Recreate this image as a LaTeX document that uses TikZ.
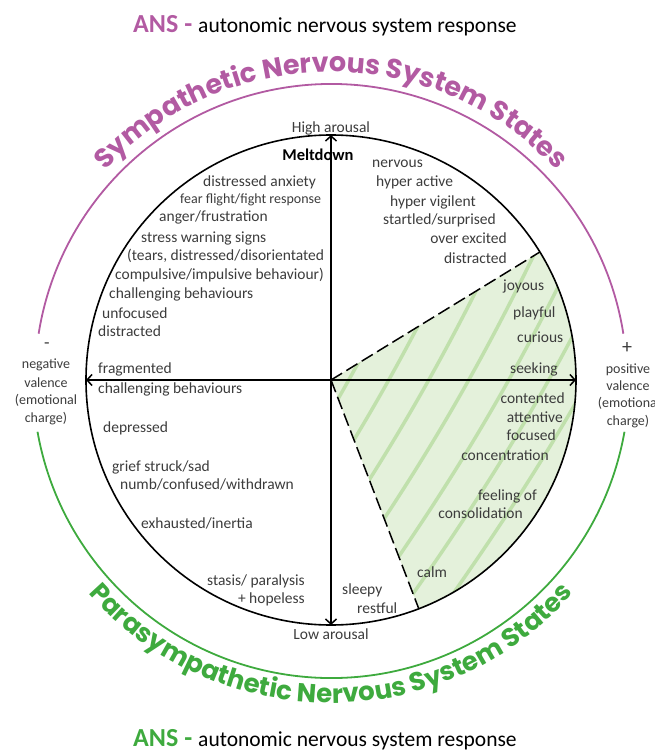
\documentclass[tikz,border=0pt]{standalone}
\usepackage{fontspec}
\setmainfont{Carlito}
\newfontfamily\statefont{Poppins}
\usetikzlibrary{decorations.text}
\usetikzlibrary{arrows.meta}

\definecolor{sympurple}{RGB}{178,90,162}
\definecolor{paragreen}{RGB}{62,170,62}
\definecolor{calmfill}{RGB}{228,241,219}
\definecolor{calmstripe}{RGB}{192,224,172}
\definecolor{txtgrey}{RGB}{60,60,60}

\begin{document}
\begin{tikzpicture}[x=1pt, y=1pt,
    lbl/.style={font=\fontsize{15.5}{18}\selectfont, text=txtgrey, inner sep=0pt},
    lw/.style={lbl, anchor=base west},
    le/.style={lbl, anchor=base east},
    side/.style={font=\fontsize{14}{16}\selectfont, text=txtgrey, inner sep=0pt, anchor=base},
    stripe/.style={calmstripe, line width=3.5pt},
    calmedge/.style={dash pattern=on 13pt off 5pt, line width=1.5pt},
    axis/.style={<->, >={Straight Barb[length=5pt,width=11pt]}, line width=1.5pt}]

\useasboundingbox (-331, -373) rectangle (324, 380);

% calm sector
\coordinate (origin) at (0, 0);
\coordinate (calmTop) at (31.5:245);
\coordinate (calmBot) at (-69:245);
\fill[calmfill] (origin) -- (calmBot) arc[start angle=-69, end angle=31.5, radius=245] -- cycle;
\begin{scope}
  \clip (origin) -- (calmBot) arc[start angle=-69, end angle=31.5, radius=245] -- cycle;
  \foreach \a in {-4, 36, 76, 116, 156, 196, 236, 276}
    \draw[stripe] (\a-165, -285) to[bend right=6] (\a+145, 250);
\end{scope}
\draw[calmedge] (origin) -- (calmTop);
\draw[calmedge] (origin) -- (calmBot);

% wheel and axes
\node[circle, draw, line width=1.6pt, minimum size=490pt, inner sep=0pt, outer sep=0pt] (wheel) at (origin) {};
\draw[axis] (wheel.south) -- (wheel.north);
\draw[axis] (wheel.west) -- (wheel.east);

% outer arcs
\draw[sympurple, line width=1.8pt] (9:296) arc[start angle=9, end angle=171, radius=296];
\draw[paragreen, line width=1.8pt] (-10:298) arc[start angle=-10, end angle=-170, radius=298];

\path[decorate, decoration={text along path, text align=center,
    text={|\statefont\bfseries\fontsize{27}{27}\selectfont\color{sympurple}|Sympathetic Nervous System States}}]
  (150:308) arc[start angle=150, end angle=30, radius=308];
\path[decorate, decoration={text along path, text align=center,
    text={|\statefont\bfseries\fontsize{26}{26}\selectfont\color{paragreen}|Parasympathetic Nervous System States}}]
  (210:323) arc[start angle=210, end angle=330, radius=323];

% titles
\node[anchor=base west, inner sep=0pt] (ansTop) at (-198, 347)
  {\textcolor{sympurple}{\fontsize{26}{26}\selectfont\bfseries ANS -}\hspace{6pt}\fontsize{21.5}{24}\selectfont autonomic nervous system response};
\node[anchor=base west, inner sep=0pt] (ansBot) at (-198, -366)
  {\textcolor{paragreen}{\fontsize{26}{26}\selectfont\bfseries ANS -}\hspace{6pt}\fontsize{21.5}{24}\selectfont autonomic nervous system response};

% axis labels
\node[lbl, anchor=base] (high) at (0, 247) {High arousal};
\node[lbl, anchor=base] (low) at (0, -259) {Low arousal};
\node[lbl, anchor=base, text=black, font=\fontsize{16.5}{18}\selectfont\bfseries] (melt) at (-13, 219) {Meltdown};

\node[side] (minus) at (-284, 32) {\fontsize{18}{18}\selectfont -};
\node[side] (neg1) at (-285, 12) {negative};
\node[side] (neg2) at (-285, -7) {valence};
\node[side] (neg3) at (-285, -24) {(emotional};
\node[side] (neg4) at (-285, -42) {charge)};
\node[side] (plus) at (296, 27) {\fontsize{20}{20}\selectfont +};
\node[side] (pos1) at (297, 7) {positive};
\node[side] (pos2) at (297, -10) {valence};
\node[side] (pos3) at (298, -27) {(emotional};
\node[side] (pos4) at (297, -45) {charge)};

% upper left
\node[lw] (s1) at (-128, 193) {distressed anxiety};
\node[lw, font=\fontsize{14}{16}\selectfont] (s2) at (-151, 176) {fear flight/fight response};
\node[lw] (s3) at (-172, 158) {anger/frustration};
\node[lw] (s4) at (-190, 138) {stress warning signs};
\node[lw] (s5) at (-204, 119) {(tears, distressed/disorientated};
\node[lw] (s6) at (-216, 100) {compulsive/impulsive behaviour)};
\node[lw] (s7) at (-222, 82) {challenging behaviours};
\node[lw] (s8) at (-229, 62) {unfocused};
\node[lw] (s9) at (-233, 44) {distracted};
\node[lw] (s10) at (-233, 7) {fragmented};

% lower left
\node[lw] (d1) at (-233, -13) {challenging behaviours};
\node[lw] (d2) at (-228, -52) {depressed};
\node[lw] (d3) at (-219, -91) {grief struck/sad};
\node[lw] (d4) at (-211, -109) {numb/confused/withdrawn};
\node[lw] (d5) at (-190, -148) {exhausted/inertia};
\node[le] (d6) at (-26, -205) {stasis/ paralysis};
\node[le] (d7) at (-26, -223) {+ hopeless};

% upper right
\node[lw] (h1) at (41, 212) {nervous};
\node[lw] (h2) at (45, 193) {hyper active};
\node[lw] (h3) at (59, 173) {hyper vigilent};
\node[lw] (h4) at (52, 155) {startled/surprised};
\node[le] (h5) at (176, 136) {over excited};
\node[le] (h6) at (176, 117) {distracted};
\node[lw] (j1) at (172, 89) {joyous};
\node[lw] (j2) at (182, 63) {playful};
\node[lw] (j3) at (186, 38) {curious};
\node[lw] (j4) at (179, 7) {seeking};

% lower right
\node[le] (c1) at (234, -23) {contented};
\node[le] (c2) at (232, -42) {attentive};
\node[le] (c3) at (225, -60) {focused};
\node[le] (c4) at (218, -80) {concentration};
\node[le] (c5) at (206, -120) {feeling of};
\node[le] (c6) at (192, -138) {consolidation};
\node[lw] (c7) at (86, -197) {calm};
\node[lw] (r1) at (11, -214) {sleepy};
\node[lw] (r2) at (26, -233) {restful};
\end{tikzpicture}
\end{document}
